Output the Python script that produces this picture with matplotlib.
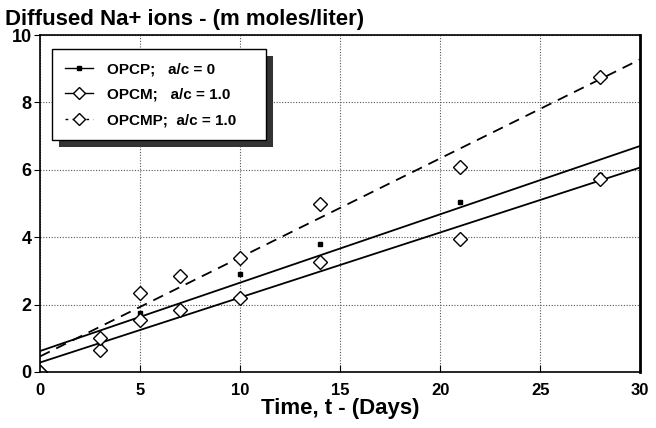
import matplotlib
matplotlib.use("Agg")
import matplotlib.pyplot as plt
import matplotlib.patheffects as pe
import numpy as np

# measured data (days, m moles/liter)
days = [0, 3, 5, 7, 10, 14, 21, 28]
opcp = [0, 0.85, 1.75, 2.75, 2.9, 3.8, 5.04, 5.85]
opcm = [0, 0.65, 1.55, 1.85, 2.2, 3.25, 3.95, 5.72]
opcmp = [0, 1.0, 2.35, 2.85, 3.38, 5.0, 6.08, 8.75]

# fitted lines: (intercept, slope)
fit_opcp = (0.62, 0.203)
fit_opcm = (0.28, 0.193)
fit_opcmp = (0.46, 0.294)

labels = ["OPCP;   a/c = 0", "OPCM;   a/c = 1.0", "OPCMP;  a/c = 1.0"]

plt.rcParams['font.family'] = ['Liberation Sans', 'DejaVu Sans']
plt.rcParams['font.weight'] = 'bold'

fig = plt.figure(figsize=(6.56, 4.28), dpi=100)
ax = fig.add_axes([0.061, 0.131, 0.915, 0.787])

t_fit = np.array([0, 30])

ax.plot(t_fit, fit_opcp[0] + fit_opcp[1] * t_fit, color='black', lw=1.3)
ax.plot(t_fit, fit_opcm[0] + fit_opcm[1] * t_fit, color='black', lw=1.3)
ax.plot(t_fit, fit_opcmp[0] + fit_opcmp[1] * t_fit, color='black', lw=1.3,
        dashes=(6, 4))

ax.plot(days, opcp, ls='none', marker='s', ms=2.5, color='black')
ax.plot(days, opcm, ls='none', marker='D', ms=7, mfc='white', mec='black', mew=1.0)
ax.plot(days, opcmp, ls='none', marker='D', ms=7, mfc='white', mec='black', mew=1.0)

# legend handles
h1, = ax.plot([], [], color='black', lw=1.0, marker='s', ms=2.5)
h2, = ax.plot([], [], color='black', lw=1.0, marker='D', ms=6, mfc='white')
h3, = ax.plot([], [], color='black', lw=1.0, dashes=(2, 3), marker='D', ms=6, mfc='white')
leg = ax.legend([h1, h2, h3], [s + "    " for s in labels], loc='upper left',
                bbox_to_anchor=(0.013, 0.972),
                frameon=True, fancybox=False, edgecolor='black', facecolor='white',
                framealpha=1.0, handlelength=1.8, handletextpad=0.9,
                prop={'weight': 'bold', 'size': 11}, labelspacing=0.75,
                borderpad=0.85, borderaxespad=0.3)
leg.get_frame().set_linewidth(1.0)
leg.get_frame().set_path_effects([pe.SimplePatchShadow(offset=(5, -5), shadow_rgbFace='#333333', alpha=1.0),
                                  pe.Normal()])

ax.set_xlim(0, 30)
ax.set_ylim(0, 10)
ax.set_xticks(range(0, 31, 5))
ax.set_yticks(range(0, 11, 2))
ax.grid(True, linestyle=(0, (1, 1.5)), color='#555555', lw=0.8)
ax.tick_params(axis='x', direction='in', length=5, labelsize=12, pad=8)
ax.tick_params(axis='y', direction='out', length=4, labelsize=13, pad=2)
for lab in ax.get_xticklabels() + ax.get_yticklabels():
    lab.set_fontweight('bold')
for s in ax.spines.values():
    s.set_linewidth(1.2)
ax.spines['right'].set_linewidth(2.0)

ax.set_xlabel("Time, t - (Days)", fontsize=16, fontweight='bold', labelpad=0)
fig.text(0.008, 0.955, "Diffused Na+ ions - (m moles/liter)", fontsize=16,
         fontweight='bold', ha='left', va='center')

fig.savefig("out.png", dpi=100)
